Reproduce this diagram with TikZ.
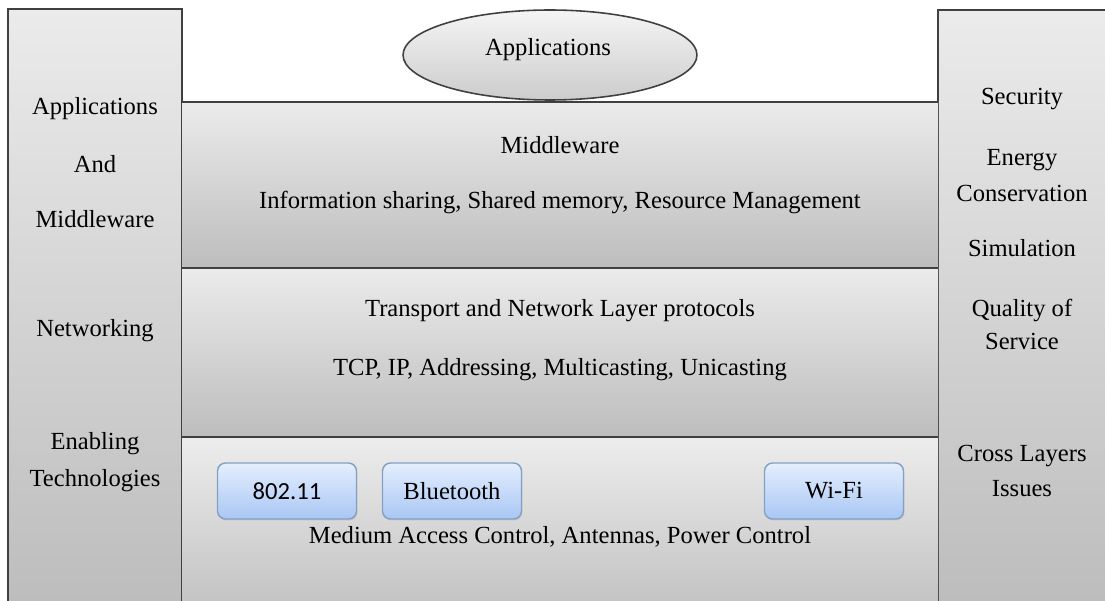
\documentclass[tikz,border=0pt]{standalone}
\usepackage{fontspec}
\setmainfont{Liberation Serif}
\newfontfamily\chipfont{Carlito}
\usetikzlibrary{shapes.geometric,shadows}

\definecolor{edgegray}{HTML}{404040}
\definecolor{paneltop}{HTML}{EBEBEB}
\definecolor{panelbot}{HTML}{BDBDBD}
\definecolor{chiptop}{HTML}{E4EEFD}
\definecolor{chipbot}{HTML}{A9C7F5}
\definecolor{chipedge}{HTML}{86A0C4}

\begin{document}
\begin{tikzpicture}[x=0.02cm, y=-0.02cm,
  font=\fontsize{14}{17}\selectfont,
  edge/.style={draw=edgegray, line width=0.9pt},
  panel/.style={top color=paneltop, bottom color=panelbot},
  chip/.style={draw=chipedge, line width=0.8pt, rounded corners=0.16cm,
    top color=chiptop, bottom color=chipbot,
    minimum width=2.78cm, minimum height=1.12cm,
    drop shadow={opacity=0.25, shadow xshift=0.5pt, shadow yshift=-0.8pt}}]
\useasboundingbox (0,0) rectangle (1105,601);

% side columns
\shade[panel] (8,9) rectangle (182,601);
\draw[edge] (8,601) -- (8,9) -- (182,9) -- (182,601);
\shade[panel] (938,10) rectangle (1105,601);
\draw[edge] (938,601) -- (938,10) -- (1105,10);

% layers
\shade[panel] (182,102) rectangle (938,268);
\shade[panel] (182,268) rectangle (938,437);
\shade[top color=paneltop!90!white, bottom color=panelbot!90!white] (182,437) rectangle (938,601);
\draw[edge]
  (182,102) -- (938,102)
  (182,268) -- (938,268)
  (182,437) -- (938,437);

% top ellipse
\node[ellipse, edge, top color=white!92!gray, bottom color=gray!40,
  minimum width=5.88cm, minimum height=1.8cm] (appsell) at (550,55) {};
\node (apps) at (548,50) {Applications};

% layer texts
\node (mw)   at (560,145) {Middleware};
\node (mwx)  at (560,202) {Information sharing, Shared memory, Resource Management};
\node (tn)   at (560,311) {Transport and Network Layer protocols};
\node (tnx)  at (560,370) {TCP, IP, Addressing, Multicasting, Unicasting};
\node (mac)  at (560,537) {Medium Access Control, Antennas, Power Control};

% technology chips
\node[chip] (c80211) at (287,491) {\chipfont 802.11};
\node[chip] (bt)     at (452,491) {Bluetooth};
\node[chip] (wifi)   at (834,491) {Wi-Fi};

% left column
\node (lapp)  at (95,109) {Applications};
\node (land)  at (95,164) {And};
\node (lmw)   at (95,219) {Middleware};
\node (lnet)  at (95,331) {Networking};
\node (lenab) at (95,444) {Enabling};
\node (ltech) at (95,481) {Technologies};

% right column
\node (rsec)  at (1022,99)  {Security};
\node (reng)  at (1022,160) {Energy};
\node (rcons) at (1022,193) {Conservation};
\node (rsim)  at (1022,248) {Simulation};
\node (rqos)  at (1022,310) {Quality of};
\node (rserv) at (1022,341) {Service};
\node (rcross) at (1022,456) {Cross Layers};
\node (riss)  at (1022,489) {Issues};
\end{tikzpicture}
\end{document}
